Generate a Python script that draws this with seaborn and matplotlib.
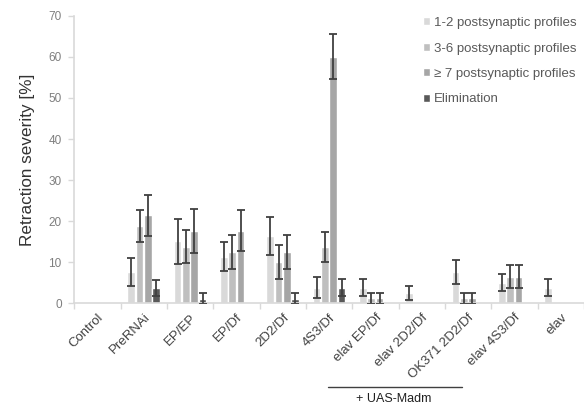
import pandas as pd
import numpy as np
import matplotlib
matplotlib.use("Agg")
import matplotlib.pyplot as plt
import seaborn as sns

genotypes = ["Control", "PreRNAi", "EP/EP", "EP/Df", "2D2/Df", "4S3/Df",
             "elav EP/Df", "elav 2D2/Df", "OK371 2D2/Df", "elav 4S3/Df", "elav"]
groups = ["1-2 postsynaptic profiles", "3-6 postsynaptic profiles",
          "\u2265 7 postsynaptic profiles", "Elimination"]

p12 = [0, 7.6, 15.1, 11.3, 16.3, 3.8, 3.8, 2.5, 7.6, 5.0, 3.8]
p12_err = [0, 3.4, 5.5, 3.5, 4.6, 2.6, 2.0, 1.7, 3.0, 2.1, 2.0]
p36 = [0, 18.8, 13.8, 12.5, 10.0, 13.7, 1.2, 0, 1.2, 6.4, 0]
p36_err = [0, 3.9, 4.0, 4.2, 4.1, 3.6, 1.3, 0, 1.3, 2.8, 0]
p7 = [0, 21.4, 17.6, 17.6, 12.5, 60.1, 1.2, 0, 1.2, 6.4, 0]
p7_err = [0, 5.0, 5.3, 5.0, 4.2, 5.5, 1.3, 0, 1.3, 2.8, 0]
elim = [0, 3.7, 1.1, 0, 1.1, 3.8, 0, 0, 0, 0, 0]
elim_err = [0, 2.0, 1.3, 0, 1.3, 2.0, 0, 0, 0, 0, 0]

colors = ["#d9d9d9", "#bfbfbf", "#a6a6a6", "#595959"]
line_col = "#d9d9d9"

vals = [p12, p36, p7, elim]
errs = [p12_err, p36_err, p7_err, elim_err]
df = pd.DataFrame({
    "genotype": genotypes * 4,
    "group": np.repeat(groups, len(genotypes)),
    "value": sum(vals, []),
})

sns.set_style("white")
plt.rcParams["font.family"] = ["Liberation Sans", "DejaVu Sans"]

fig = plt.figure(figsize=(5.84, 4.08), dpi=100)
ax = fig.add_axes([0.127, 0.257, 0.873, 0.704])

sns.barplot(data=df, x="genotype", y="value", hue="group", order=genotypes,
            hue_order=groups, palette=colors, errorbar=None, width=0.72,
            gap=0.08, ax=ax, saturation=1)

# error bars from bar positions
for cont, e in zip(ax.containers, errs):
    for bar, err in zip(cont, e):
        if err <= 0:
            continue
        xc = bar.get_x() + bar.get_width() / 2
        ax.errorbar(xc, bar.get_height(), yerr=err, fmt="none", ecolor="#404040",
                    elinewidth=1.3, capsize=3, capthick=1.3, zorder=5)

ax.set_ylim(0, 70)
ax.set_xlim(-0.5, len(genotypes) - 0.5)
ax.set_yticks(range(0, 71, 10))
ax.set_xlabel("")
ax.set_ylabel("Retraction severity [%]", fontsize=12.3, color="#333333", labelpad=10)

for s in ["top", "right"]:
    ax.spines[s].set_visible(False)
for s in ["left", "bottom"]:
    ax.spines[s].set_color(line_col)
    ax.spines[s].set_linewidth(1.2)

ax.tick_params(axis="y", left=True, length=4, width=1, color=line_col,
               labelsize=8.5, labelcolor="#7f7f7f", pad=5)
ax.set_xticks(range(len(genotypes)))
ax.set_xticklabels(genotypes, rotation=45, ha="right", rotation_mode="anchor")
ax.tick_params(axis="x", which="major", length=0, labelsize=9.5,
               labelcolor="#404040", pad=6)
ax.set_xticks(np.arange(-0.5, len(genotypes), 1), minor=True)
ax.tick_params(axis="x", which="minor", bottom=True, length=4, width=1,
               color=line_col)

ax.legend(loc="upper right", bbox_to_anchor=(0.99, 1.005), frameon=False,
          fontsize=9.5, labelcolor="#595959", handlelength=0.55,
          handleheight=0.55, handletextpad=0.25, labelspacing=1.02,
          borderaxespad=0.0, borderpad=0.2)

# + UAS-Madm bracket
trans = matplotlib.transforms.blended_transform_factory(ax.transData, ax.transAxes)
ax.plot([4.97, 7.86], [-0.293, -0.293], color="#404040", lw=1.0,
        transform=trans, clip_on=False)
ax.text(6.4, -0.335, "+ UAS-Madm", transform=trans, ha="center", va="center",
        fontsize=9, color="#202020")

fig.savefig("out.png", dpi=100)
